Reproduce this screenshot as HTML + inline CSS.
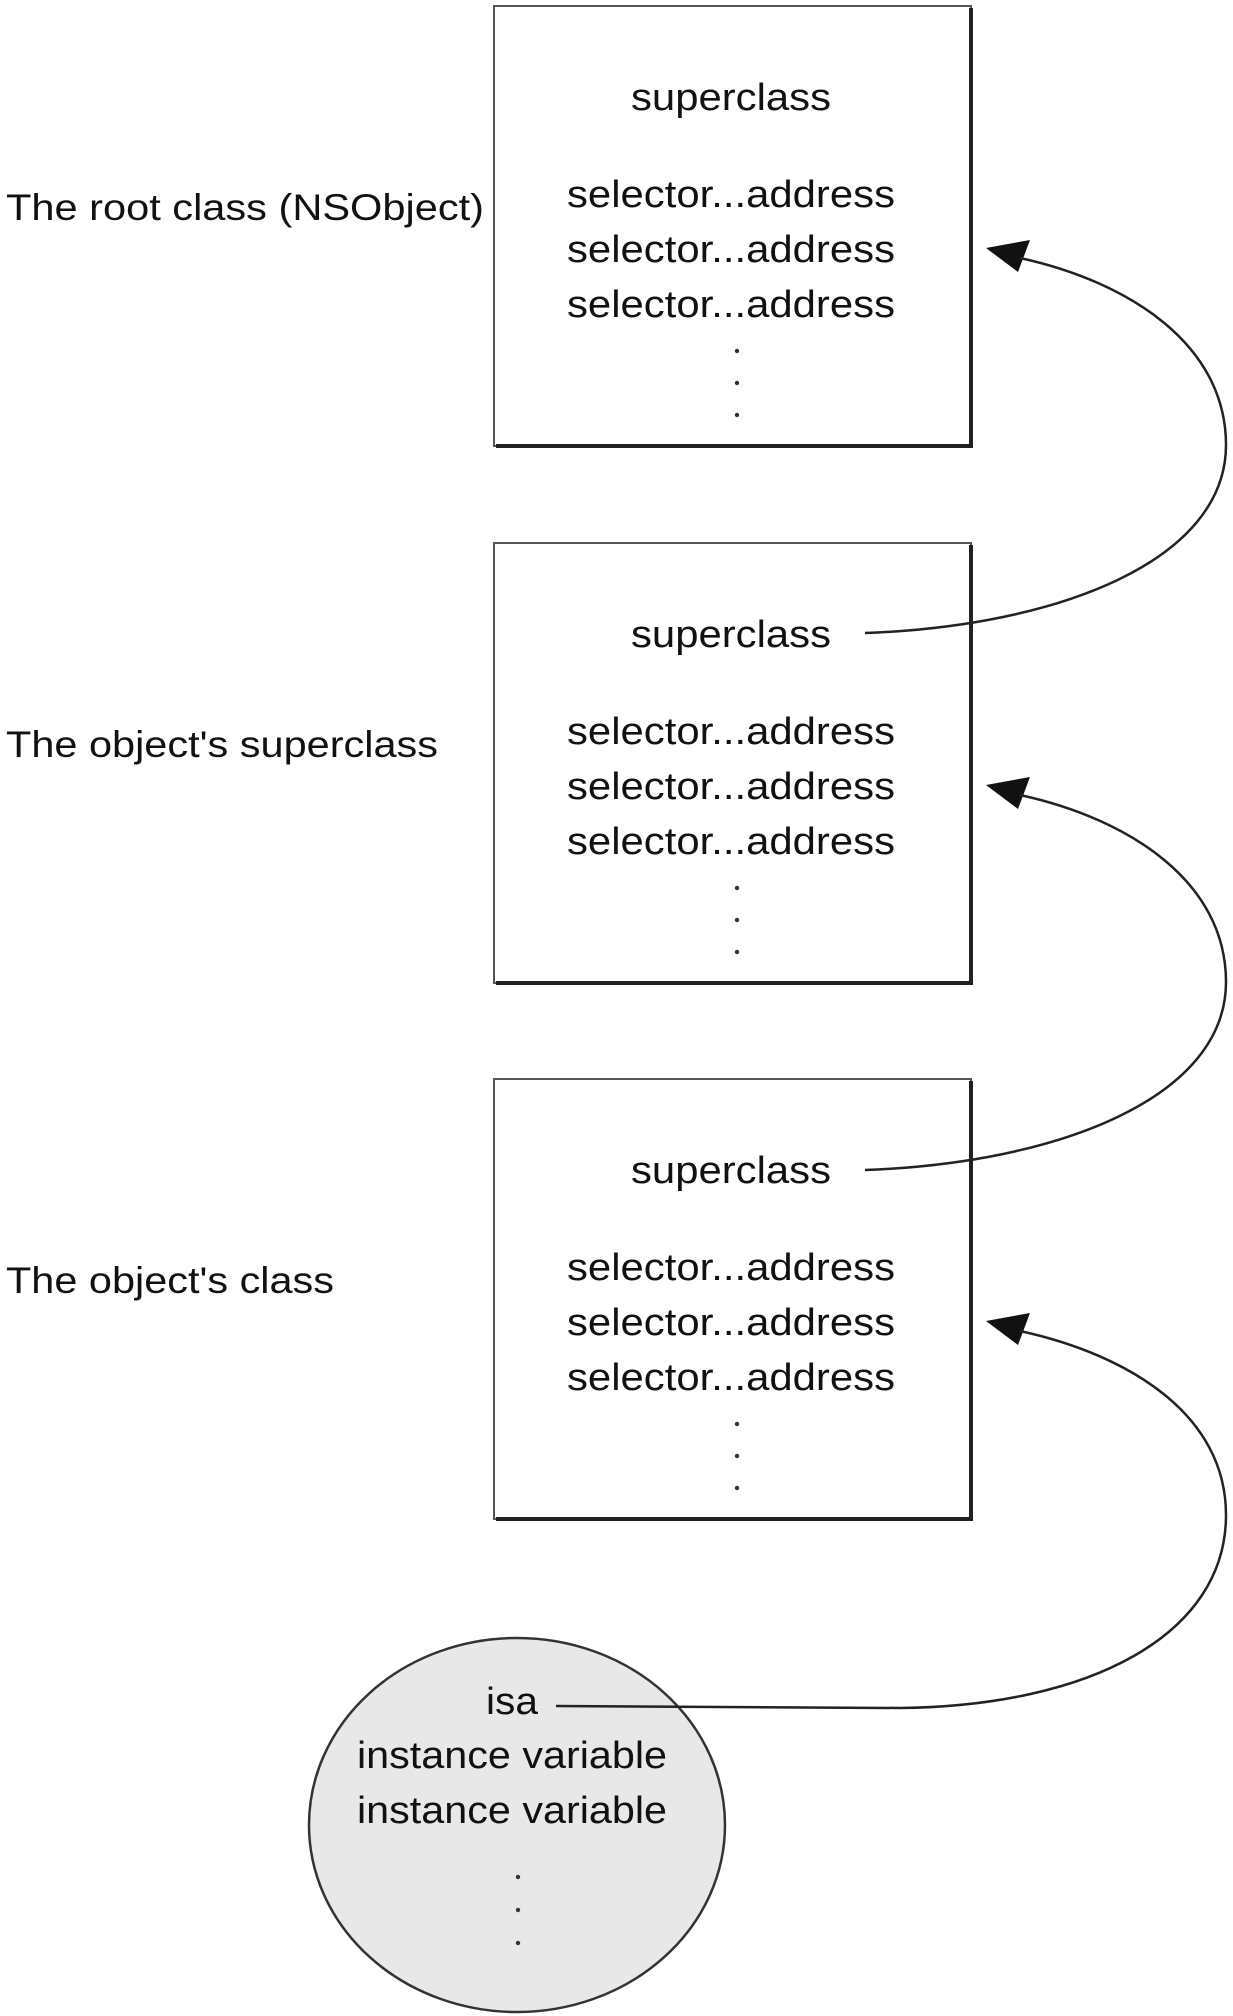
<!DOCTYPE html>
<html><head><meta charset="utf-8"><style>html,body{margin:0;padding:0;background:#fff}svg{display:block}</style></head>
<body>
<svg width="1233" height="2016" viewBox="0 0 1233 2016" xmlns="http://www.w3.org/2000/svg" font-family="Liberation Sans, Arial, sans-serif" fill="#111">
<defs>
<g id="box">
<rect x="494" y="6" width="477" height="440" fill="#fff" stroke="#555" stroke-width="2"/>
<path d="M971,8 L971,446 L496,446" fill="none" stroke="#222" stroke-width="4"/>
<text x="731" y="110" font-size="38" text-anchor="middle" textLength="200" lengthAdjust="spacingAndGlyphs">superclass</text>
<text x="731" y="207" font-size="38" text-anchor="middle" textLength="328" lengthAdjust="spacingAndGlyphs">selector...address</text>
<text x="731" y="262" font-size="38" text-anchor="middle" textLength="328" lengthAdjust="spacingAndGlyphs">selector...address</text>
<text x="731" y="317" font-size="38" text-anchor="middle" textLength="328" lengthAdjust="spacingAndGlyphs">selector...address</text>
<circle cx="737" cy="351" r="2.2" fill="#333"/>
<circle cx="737" cy="383" r="2.2" fill="#333"/>
<circle cx="737" cy="415" r="2.2" fill="#333"/>
<polygon points="986,248 1030,240 1018,272" fill="#111"/>
</g>
</defs>
<use href="#box"/>
<use href="#box" y="537"/>
<use href="#box" y="1073"/>
<text x="6" y="220" font-size="37" textLength="478" lengthAdjust="spacingAndGlyphs">The root class (NSObject)</text>
<text x="6" y="757" font-size="37" textLength="432" lengthAdjust="spacingAndGlyphs">The object's superclass</text>
<text x="6" y="1293" font-size="37" textLength="328" lengthAdjust="spacingAndGlyphs">The object's class</text>
<ellipse cx="517" cy="1825" rx="208" ry="187" fill="#e8e8e8" stroke="#333" stroke-width="2.5"/>
<text x="512" y="1714" font-size="38" text-anchor="middle" textLength="52" lengthAdjust="spacingAndGlyphs">isa</text>
<text x="512" y="1768" font-size="38" text-anchor="middle" textLength="310" lengthAdjust="spacingAndGlyphs">instance variable</text>
<text x="512" y="1823" font-size="38" text-anchor="middle" textLength="310" lengthAdjust="spacingAndGlyphs">instance variable</text>
<circle cx="518" cy="1877" r="2.2" fill="#333"/>
<circle cx="518" cy="1910" r="2.2" fill="#333"/>
<circle cx="518" cy="1943" r="2.2" fill="#333"/>
<g fill="none" stroke="#222" stroke-width="2.5">
<path d="M865,633 C1060,626 1226,560 1226,445 C1226,345 1130,282 1020,258"/>
<path d="M865,1170 C1060,1163 1226,1097 1226,982 C1226,882 1130,819 1020,795"/>
<path d="M556,1706 L900,1708 C1090,1706 1226,1635 1226,1515 C1226,1415 1130,1355 1020,1331"/>
</g>
</svg>
</body></html>
